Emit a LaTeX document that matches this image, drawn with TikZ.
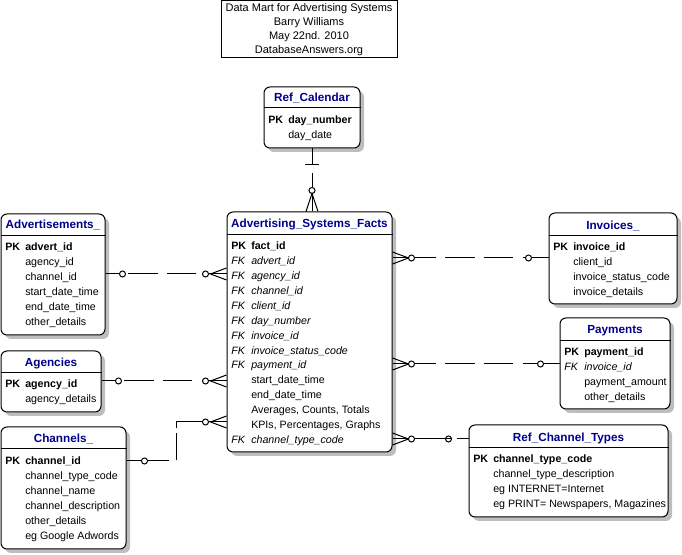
\documentclass[tikz,border=0pt]{standalone}
\usepackage{fontspec}
\setmainfont{Liberation Sans}
\usetikzlibrary{fit,shadows,calc}
\definecolor{ttl}{RGB}{0,0,140}
\definecolor{shd}{RGB}{190,190,190}
\newcommand\bodyfont{\fontsize{8}{11.2}\selectfont}
\newcommand\pkr[1]{\textbf{PK}&\textbf{#1}}
\newcommand\fkr[1]{\textit{FK}&\textit{#1}}
\newcommand\nr[1]{&#1}
\tikzset{
  ln/.style={line width=0.75pt},
  dsh/.style={line width=0.75pt, dash pattern=on 22pt off 7pt},
  ebox/.style={draw=black, line width=0.75pt, fill=white, rounded corners=4.5pt, inner sep=0pt,
    general shadow={fill=shd, shadow xshift=3pt, shadow yshift=-3pt}},
  ttltext/.style={text=ttl, font=\bfseries\fontsize{8.8}{10}\selectfont, inner sep=0pt, anchor=base},
  bodytext/.style={font=\bodyfont, inner sep=0pt, anchor=base west},
  ringmark/.style={line width=0.75pt, fill=white}
}
\begin{document}
\begin{tikzpicture}[x=0.75pt,y=-0.75pt]
\useasboundingbox (0,0) rectangle (682,555);
% title box
\node[draw, line width=0.75pt, fill=white, inner sep=0pt, fit={(221,1)(397,58)}] (tbox) {};
\node[font=\fontsize{8.25}{10.5}\selectfont, inner sep=0pt, anchor=base] (ttxt) at (309,12)
  {\begin{tabular}[t]{@{}c@{}}Data Mart for Advertising Systems\\Barry Williams\\May 22nd. 2010\\DatabaseAnswers.org\end{tabular}};

% Ref_Calendar
\node[ebox, fit={(264,87)(360,148)}] (cal) {};
\draw[ln] (cal.west |- 0,108) -- (cal.east |- 0,108);
\node[ttltext] (calt) at (312,101.5) {Ref\_Calendar};
\node[bodytext] (calb) at (268,123.5) {\begin{tabular}[t]{@{}p{15pt}@{}l@{}}\pkr{day\_number}\\\nr{day\_date}\end{tabular}};

% Facts
\node[ebox, fit={(227,212)(392,452)}] (facts) {};
\draw[ln] (facts.west |- 0,235) -- (facts.east |- 0,235);
\node[ttltext] (factst) at (309.5,227.5) {Advertising\_Systems\_Facts};
\node[bodytext] (factsb) at (231,249.5) {\begin{tabular}[t]{@{}p{15pt}@{}l@{}}
\pkr{fact\_id}\\\fkr{advert\_id}\\\fkr{agency\_id}\\\fkr{channel\_id}\\\fkr{client\_id}\\
\fkr{day\_number}\\\fkr{invoice\_id}\\\fkr{invoice\_status\_code}\\\fkr{payment\_id}\\
\nr{start\_date\_time}\\\nr{end\_date\_time}\\\nr{Averages, Counts, Totals}\\\nr{KPIs, Percentages, Graphs}\\
\fkr{channel\_type\_code}\end{tabular}};

% Advertisements
\node[ebox, fit={(1,214)(105,335)}] (adv) {};
\draw[ln] (adv.west |- 0,236) -- (adv.east |- 0,236);
\node[ttltext] (advt) at (53,228.5) {Advertisements\_};
\node[bodytext] (advb) at (5,250.5) {\begin{tabular}[t]{@{}p{15pt}@{}l@{}}
\pkr{advert\_id}\\\nr{agency\_id}\\\nr{channel\_id}\\\nr{start\_date\_time}\\\nr{end\_date\_time}\\\nr{other\_details}\end{tabular}};

% Agencies
\node[ebox, fit={(1,351)(101,412)}] (agc) {};
\draw[ln] (agc.west |- 0,373) -- (agc.east |- 0,373);
\node[ttltext] (agct) at (51,366.5) {Agencies};
\node[bodytext] (agcb) at (5,387.5) {\begin{tabular}[t]{@{}p{15pt}@{}l@{}}
\pkr{agency\_id}\\\nr{agency\_details}\end{tabular}};

% Channels
\node[ebox, fit={(1,427)(126,549)}] (chn) {};
\draw[ln] (chn.west |- 0,449) -- (chn.east |- 0,449);
\node[ttltext] (chnt) at (63.5,442.5) {Channels\_};
\node[bodytext] (chnb) at (5,464.5) {\begin{tabular}[t]{@{}p{15pt}@{}l@{}}
\pkr{channel\_id}\\\nr{channel\_type\_code}\\\nr{channel\_name}\\\nr{channel\_description}\\\nr{other\_details}\\\nr{eg Google Adwords}\end{tabular}};

% Invoices
\node[ebox, fit={(549,213)(677,304)}] (inv) {};
\draw[ln] (inv.west |- 0,236) -- (inv.east |- 0,236);
\node[ttltext] (invt) at (613,229.5) {Invoices\_};
\node[bodytext] (invb) at (553,250.5) {\begin{tabular}[t]{@{}p{15pt}@{}l@{}}
\pkr{invoice\_id}\\\nr{client\_id}\\\nr{invoice\_status\_code}\\\nr{invoice\_details}\end{tabular}};

% Payments
\node[ebox, fit={(560,318)(670,409)}] (pay) {};
\draw[ln] (pay.west |- 0,341) -- (pay.east |- 0,341);
\node[ttltext] (payt) at (615,333.5) {Payments};
\node[bodytext] (payb) at (564,355.5) {\begin{tabular}[t]{@{}p{15pt}@{}l@{}}
\pkr{payment\_id}\\\fkr{invoice\_id}\\\nr{payment\_amount}\\\nr{other\_details}\end{tabular}};

% Ref_Channel_Types
\node[ebox, fit={(469,425)(668,517)}] (rct) {};
\draw[ln] (rct.west |- 0,448) -- (rct.east |- 0,448);
\node[ttltext] (rctt) at (568.5,441.5) {Ref\_Channel\_Types};
\node[bodytext] (rctb) at (473,462.5) {\begin{tabular}[t]{@{}p{15pt}@{}l@{}}
\pkr{channel\_type\_code}\\\nr{channel\_type\_description}\\\nr{eg INTERNET=Internet}\\\nr{eg PRINT= Newspapers, Magazines}\end{tabular}};

% ---- connectors ----
% Ref_Calendar -> Facts
\coordinate (c1) at (cal.south);
\coordinate (c2) at (cal.south |- facts.north);
\draw[ln] (c1) -- ++(0,17);
\draw[ln] (c1) ++(-7,16) -- ++(14,0);
\draw[ln] (c1) ++(0,25) -- ++(0,15);
\draw[ringmark] (c2) ++(0,-21) circle[radius=2.25pt];
\draw[ln] (c2) ++(0,-18) -- (c2);
\draw[ln] (c2) ++(-6,0) -- ++(6,-18) -- ++(6,18);

% left-side relations
\coordinate (a1) at (adv.east |- 0,274);
\coordinate (a2) at (facts.west |- 0,274);
\coordinate (g1) at (agc.east |- 0,381);
\coordinate (g2) at (facts.west |- 0,381);
\coordinate (h1) at (chn.east |- 0,461);
\coordinate (h2) at (facts.west |- 0,422);
\foreach \p/\q in {a1/a2, g1/g2}{
  \draw[ln] (\p) -- ++(14,0);
  \draw[ringmark] (\p) ++(17,0) circle[radius=2.25pt];
  \draw[dsh, dash phase=-2pt] (\p) ++(20,0) -- ($(\q)+(-24,0)$);
}
\draw[ln] (h1) -- ++(15,0);
\draw[ringmark] (h1) ++(18,0) circle[radius=2.25pt];
\draw[ln, dash pattern=on 16pt off 6pt on 20pt off 4pt on 60pt] (h1) ++(21,0) -- (h1 -| 176,0) -- (h2 -| 176,0) -- ($(h2)+(-24,0)$);
\foreach \q in {a2,g2,h2}{
  \draw[ln] (\q) ++(-24,0) -- ++(2,0);
  \draw[ringmark] (\q) ++(-21,0) circle[radius=2.25pt];
  \draw[ln] (\q) ++(-18,0) -- (\q);
  \draw[ln] (\q) ++(0,-6) -- ++(-16,6) -- ++(16,6);
}

% right-side relations
\coordinate (i1) at (facts.east |- 0,258);
\coordinate (i2) at (inv.west |- 0,258);
\coordinate (p1) at (facts.east |- 0,364);
\coordinate (p2) at (pay.west |- 0,364);
\coordinate (r1) at (facts.east |- 0,439);
\coordinate (r2) at (rct.west |- 0,439);
\foreach \q in {i1,p1,r1}{
  \draw[ln] (\q) -- ++(16,0);
  \draw[ln] (\q) ++(0,-6) -- ++(16,6) -- ++(-16,6);
  \draw[ringmark] (\q) ++(19,0) circle[radius=2.25pt];
}
\draw[dsh, dash phase=6pt] (i1) ++(22,0) -- ($(i2)+(-23,0)$);
\draw[ringmark] (i2) ++(-20,0) circle[radius=2.25pt];
\draw[ln] (i2) ++(-17,0) -- (i2);
\draw[dsh, dash phase=6pt] (p1) ++(22,0) -- ($(p2)+(-22,0)$);
\draw[ringmark] (p2) ++(-19,0) circle[radius=2.25pt];
\draw[ln] (p2) ++(-16,0) -- (p2);
\draw[ln] (r1) ++(22,0) -- ($(r2)+(-17,0)$);
\draw[ringmark] (r2) ++(-20,0) circle[radius=2.25pt];
\draw[ln] (r2) ++(-23,0) -- ++(6,0);
\draw[ln] (r2) ++(-12,0) -- (r2);
\end{tikzpicture}
\end{document}
